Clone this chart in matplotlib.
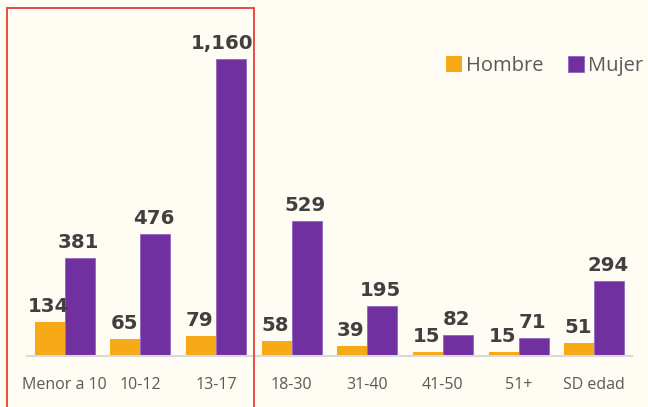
"""
Grouped bars: Hombre vs Mujer by age group, with the first three groups boxed in red.
"""
import matplotlib
matplotlib.use('Agg')
import matplotlib.pyplot as plt
from matplotlib.patches import Rectangle
import numpy as np

categories = ['Menor a 10', '10-12', '13-17', '18-30', '31-40', '41-50', '51+', 'SD edad']
hombre = [134, 65, 79, 58, 39, 15, 15, 51]
mujer = [381, 476, 1160, 529, 195, 82, 71, 294]
series_names = ['Hombre', 'Mujer']

BG = '#FFFCF3'
C_H = '#F7A916'
C_M = '#7030A0'
TXT = '#404040'

W, H = 648, 407
fig = plt.figure(figsize=(W / 100, H / 100), dpi=100, facecolor=BG)

# axes spans the plotting area in pixel terms (baseline at y=356, x from 27 to 632)
base_px = 356
ax = fig.add_axes([27 / W, (H - base_px) / H, (632 - 27) / W, base_px / H])
ax.set_facecolor(BG)

x = np.arange(len(categories))
bw = 0.397
bh = ax.bar(x - bw / 2, hombre, bw, color=C_H, label=series_names[0], zorder=2)
bm = ax.bar(x + bw / 2, mujer, bw, color=C_M, edgecolor='#9466BD', linewidth=0.6,
            label=series_names[1], zorder=2)

ax.set_xlim(-0.5, len(categories) - 0.5)
ax.set_ylim(0, 1160 * base_px / 297)

vmax = max(mujer)
for bars, vals in ((bh, hombre), (bm, mujer)):
    for b, v in zip(bars, vals):
        # the tallest label was nudged left so it stays inside the red box
        dx = -6.5 if v == vmax else -1
        ax.annotate(f'{v:,}', (b.get_x() + b.get_width() / 2, v),
                    xytext=(dx, 7.2), textcoords='offset points',
                    ha='center', va='baseline', fontsize=14.2, fontweight='bold',
                    color=TXT, family='DejaVu Sans', zorder=3)

for s in ('top', 'right', 'left'):
    ax.spines[s].set_visible(False)
ax.spines['bottom'].set_color('#D9D9D9')
ax.spines['bottom'].set_linewidth(1.5)
ax.set_yticks([])
ax.set_xticks(x)
ax.set_xticklabels(categories, fontsize=11.5, color='#595959', family='Open Sans')
ax.tick_params(axis='x', length=0, pad=15)

leg = fig.legend(handles=[bh, bm], labels=series_names, loc='upper left',
                 bbox_to_anchor=(446 / W, 1 - 56 / H), ncol=2, frameon=False,
                 prop={'family': 'Open Sans', 'size': 14.5}, handlelength=0.8,
                 handleheight=0.8, handletextpad=0.2, columnspacing=1.2,
                 borderaxespad=0, borderpad=0)
for t in leg.get_texts():
    t.set_color('#595959')

# red box around the first three groups
fig.add_artist(Rectangle((6.5 / W, -0.02), (253.5 - 6.5) / W, 1.02 - 8 / H,
                         transform=fig.transFigure, fill=False,
                         edgecolor='#F03A3A', linewidth=1.3))

plt.savefig('out.png', dpi=100, facecolor=BG)
